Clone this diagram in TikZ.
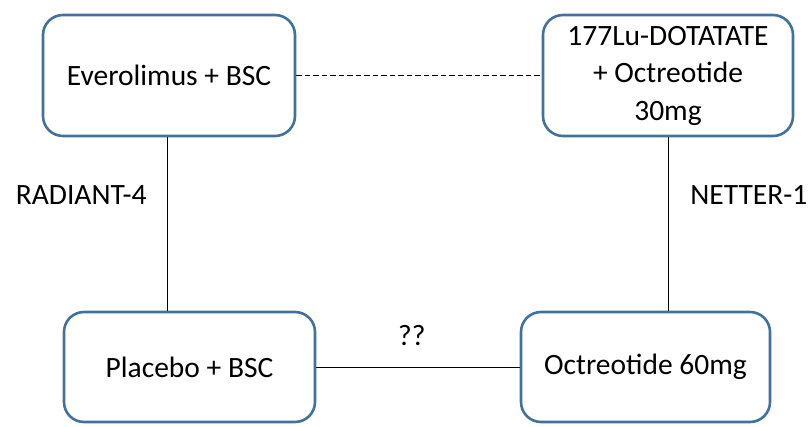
\documentclass[tikz,border=0pt]{standalone}
\usepackage{fontspec}
\setmainfont{Carlito}
\usetikzlibrary{positioning}
\definecolor{boxblue}{RGB}{65,113,156}
\tikzset{
    armdiagram/.style={x=1pt, y=1pt, font=\fontsize{29.5}{37.5}\selectfont},
    arm/.style={draw=boxblue, line width=2.6pt, rounded corners=20pt, fill=white, align=center, inner sep=0pt},
    trial/.style={line width=0.8pt},
    label/.style={inner sep=0pt},
}
\begin{document}
\begin{tikzpicture}[armdiagram]
    \useasboundingbox (0,0) rectangle (810,426);
    \node[arm, minimum width=252pt, minimum height=121pt] (everolimus) at (169,350.5) {Everolimus + BSC};
    \node[arm, minimum width=250pt, minimum height=121pt] (lutetium)   at (668,350.5) {177Lu-DOTATATE\\+ Octreotide\\30mg};
    \node[arm, minimum width=251pt, minimum height=110pt] (placebo)    at (189.5,59) {Placebo + BSC};
    \node[arm, minimum width=249pt, minimum height=110pt] (octreotide) at (645.5,59) {Octreotide 60mg};

    % comparisons
    \draw[trial, line width=1.5pt, dash pattern=on 5.5pt off 3pt] (everolimus) -- (lutetium);
    \draw[trial] ([xshift=-2pt]everolimus.south) -- ([xshift=-2pt]everolimus.south |- placebo.north)
        node[label, pos=0.335, left=20pt] {RADIANT-4};
    \draw[trial] (lutetium.south) -- (lutetium.south |- octreotide.north)
        node[label, pos=0.335, right=22pt] {NETTER-1};
    \draw[trial] (placebo) -- node[label, pos=0.47, above=21pt] {??} (octreotide);
\end{tikzpicture}
\end{document}
